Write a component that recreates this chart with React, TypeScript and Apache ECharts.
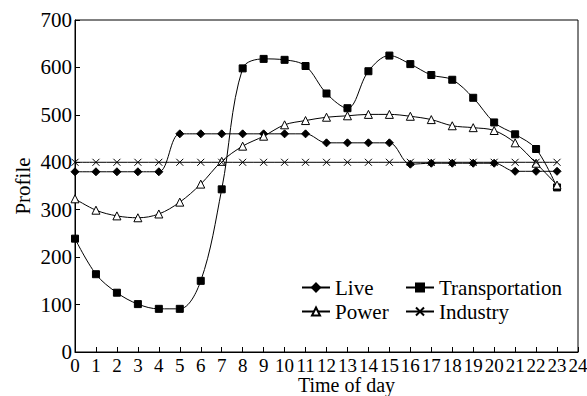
import React, { useEffect, useRef } from "react";
import * as echarts from "echarts";

const hours = Array.from({ length: 24 }, (_, i) => i);
const live = [380, 380, 380, 380, 380, 460, 460, 460, 460, 460, 460, 460, 441, 441, 441, 441, 396, 398, 398, 398, 398, 381, 381, 381];
const transportation = [239, 164, 125, 101, 91, 91, 150, 343, 598, 618, 616, 603, 545, 514, 592, 625, 607, 584, 574, 536, 484, 459, 428, 347];
const power = [323, 299, 287, 283, 291, 316, 354, 402, 434, 455, 479, 488, 495, 498, 501, 501, 497, 490, 477, 473, 467, 441, 398, 352];
const industry = [400, 400, 400, 400, 400, 400, 400, 400, 400, 400, 400, 400, 400, 400, 400, 400, 400, 400, 400, 400, 400, 400, 400, 400];

const FONT = "'Liberation Serif', 'Times New Roman', serif";
const FS = 21;

export default function App() {
  const ref = useRef<HTMLDivElement>(null);
  useEffect(() => {
    if (!ref.current) return;
    document.body.style.margin = "0";
    const chart = echarts.init(ref.current, null, { renderer: "svg" });
    const pair = (arr: number[]) => hours.map((h, i) => [h, arr[i]]);
    const base = {
      type: "line",
      smooth: 0.35,
      lineStyle: { color: "#000", width: 1 },
      itemStyle: { color: "#000", borderColor: "#000", borderWidth: 1 },
      showSymbol: true,
    };
    const legendCommon = {
      orient: "vertical",
      top: 277,
      padding: 0,
      itemWidth: 28,
      itemHeight: 10,
      itemGap: 3,
      textStyle: { fontFamily: FONT, fontSize: FS, color: "#000", lineHeight: 21 },
    };
    chart.setOption({
      animation: false,
      backgroundColor: "#fff",
      textStyle: { fontFamily: FONT, color: "#000" },
      grid: {
        left: 75,
        right: 9,
        top: 20,
        bottom: 44,
        show: true,
        borderColor: "#000",
        borderWidth: 1,
        outerBoundsMode: "none",
        containLabel: false,
      },
      xAxis: {
        type: "value",
        min: 0,
        max: 24,
        interval: 1,
        name: "Time of day",
        nameLocation: "middle",
        nameGap: 23,
        nameMoveOverlap: false,
        nameTextStyle: { fontFamily: FONT, fontSize: 20, color: "#000", padding: [0, 0, 0, 40], lineHeight: 20 },
        axisLine: { lineStyle: { color: "#000", width: 1 } },
        axisTick: { inside: true, length: 5, lineStyle: { color: "#000" } },
        axisLabel: { fontFamily: FONT, fontSize: 19, color: "#000", margin: 4 },
        splitLine: { show: false },
      },
      yAxis: {
        type: "value",
        min: 0,
        max: 700,
        interval: 100,
        name: "Profile",
        nameLocation: "middle",
        nameRotate: 90,
        nameGap: 42,
        nameMoveOverlap: false,
        nameTextStyle: { fontFamily: FONT, fontSize: FS, color: "#000" },
        axisLine: { show: true, lineStyle: { color: "#000", width: 1 } },
        axisTick: { show: true, inside: true, length: 5, lineStyle: { color: "#000" } },
        axisLabel: { fontFamily: FONT, fontSize: FS, color: "#000", margin: 3 },
        splitLine: { show: false },
      },
      legend: [
        { ...legendCommon, data: ["Live", "Power"], left: 301 },
        { ...legendCommon, data: ["Transportation", "Industry"], left: 405 },
      ],
      series: [
        { ...base, name: "Live", symbol: "diamond", symbolSize: 8, data: pair(live) },
        { ...base, name: "Transportation", symbol: "rect", symbolSize: 7, data: pair(transportation) },
        {
          ...base,
          name: "Power",
          symbol: "triangle",
          symbolSize: 8,
          itemStyle: { color: "#fff", borderColor: "#000", borderWidth: 1 },
          data: pair(power),
        },
        {
          ...base,
          name: "Industry",
          symbol: "path://M0,0L10,10M10,0L0,10",
          symbolSize: 7,
          itemStyle: { color: "none", borderColor: "#000", borderWidth: 1 },
          data: pair(industry),
        },
      ],
    });
    return () => chart.dispose();
  }, []);
  return <div ref={ref} style={{ width: 587, height: 396 }} />;
}
